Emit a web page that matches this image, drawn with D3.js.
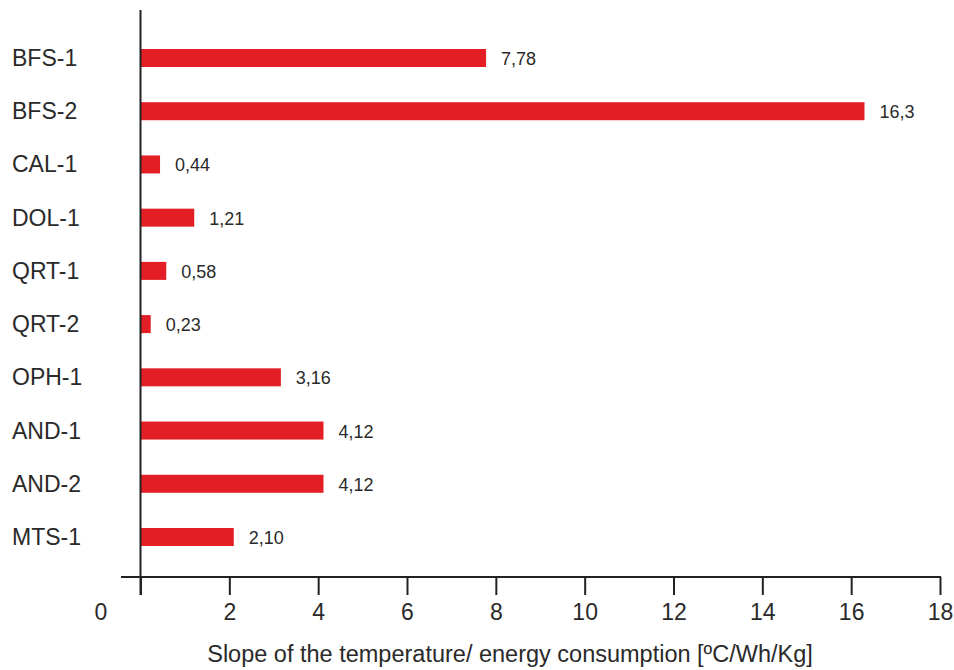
<!DOCTYPE html>
<html>
<head>
<meta charset="utf-8">
<script src="https://cdn.jsdelivr.net/npm/d3@7"></script>
<style>
  html, body { margin: 0; padding: 0; background: #fff; }
  svg text { font-family: Arial, "Liberation Sans", sans-serif; fill: #2a2a2a; }
</style>
</head>
<body>
<svg id="chart" width="954" height="670"></svg>
<script>
// Samples and their slopes
const categories = ["BFS-1", "BFS-2", "CAL-1", "DOL-1", "QRT-1", "QRT-2", "OPH-1", "AND-1", "AND-2", "MTS-1"];
const values = [7.78, 16.3, 0.44, 1.21, 0.58, 0.23, 3.16, 4.12, 4.12, 2.10];
const valueLabels = ["7,78", "16,3", "0,44", "1,21", "0,58", "0,23", "3,16", "4,12", "4,12", "2,10"];
const xTicks = [0, 2, 4, 6, 8, 10, 12, 14, 16, 18];
const xTitle = "Slope of the temperature/ energy consumption [ºC/Wh/Kg]";

const svg = d3.select("#chart");

const x = d3.scaleLinear().domain([0, 18]).range([140.5, 940]);
const y = d3.scalePoint().domain(categories).range([58, 537]);
const barH = 18;

// Bars
svg.append("g")
  .selectAll("rect")
  .data(values)
  .join("rect")
  .attr("x", x(0))
  .attr("y", (d, i) => y(categories[i]) - barH / 2)
  .attr("width", d => x(d) - x(0))
  .attr("height", barH)
  .attr("fill", "#e31e24");

// Value labels at bar ends
svg.append("g")
  .selectAll("text")
  .data(values)
  .join("text")
  .attr("x", d => x(d) + 15)
  .attr("y", (d, i) => y(categories[i]) + 7)
  .attr("font-size", 18)
  .text((d, i) => valueLabels[i]);

// Category labels, left aligned
svg.append("g")
  .selectAll("text")
  .data(categories)
  .join("text")
  .attr("x", 12)
  .attr("y", d => y(d) + 8)
  .attr("font-size", 23)
  .text(d => d);

// X axis
const xAxis = svg.append("g")
  .attr("transform", "translate(0,577)")
  .call(d3.axisBottom(x).tickValues(xTicks).tickSize(18).tickPadding(8).tickFormat(d3.format("d")));
xAxis.select(".domain").remove();
xAxis.selectAll(".tick line").attr("stroke", "#222").attr("stroke-width", 2);
xAxis.selectAll(".tick text")
  .attr("font-size", 23)
  .attr("fill", "#2a2a2a")
  .attr("dy", "0.72em")
  .attr("dx", d => d === 0 ? -40 : 0);
xAxis.append("line")
  .attr("x1", 121).attr("x2", x(18) + 1)
  .attr("y1", 0).attr("y2", 0)
  .attr("stroke", "#222").attr("stroke-width", 2);

// Y axis line
svg.append("line")
  .attr("x1", x(0)).attr("x2", x(0))
  .attr("y1", 10).attr("y2", 595)
  .attr("stroke", "#222").attr("stroke-width", 2);

// Axis title
svg.append("text")
  .attr("x", 510)
  .attr("y", 662)
  .attr("text-anchor", "middle")
  .attr("font-size", 23.5)
  .text(xTitle);
</script>
</body>
</html>
